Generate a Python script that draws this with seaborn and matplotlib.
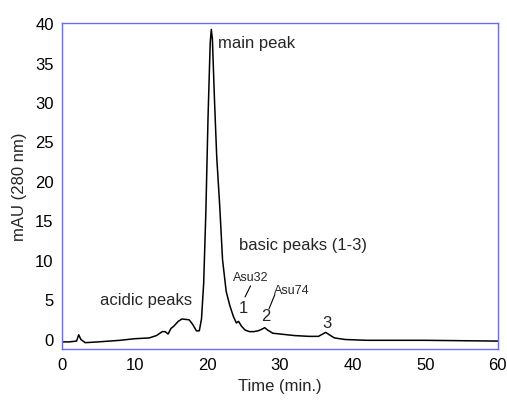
import matplotlib
matplotlib.use("Agg")
import matplotlib.pyplot as plt
import seaborn as sns
import pandas as pd

time_min = [0, 1, 2.0, 2.3, 2.6, 3.2, 5, 8, 10, 12, 13, 13.8, 14.2, 14.6, 15.0, 15.4,
            16.0, 16.5, 17.5, 18.0, 18.5, 18.9, 19.2, 19.5, 19.8, 20.1, 20.4, 20.55,
            20.7, 21.0, 21.3, 21.7, 22.1, 22.6, 23.1, 23.6, 24.0, 24.3, 24.7, 25.2,
            25.8, 26.4, 27.0, 27.5, 27.9, 28.3, 29.0, 30, 32, 34, 35.3, 35.9, 36.3,
            36.8, 37.5, 39, 42, 50, 60]
mau = [-0.4, -0.4, -0.3, 0.5, -0.1, -0.5, -0.4, -0.2, 0.0, 0.1, 0.4, 0.9, 0.9, 0.6,
       1.3, 1.6, 2.2, 2.5, 2.4, 1.8, 1.0, 1.0, 2.5, 7, 16, 28, 37.5, 39.2, 38, 30, 23,
       17, 10, 6.0, 4.2, 2.8, 2.0, 2.2, 1.6, 1.1, 0.9, 0.9, 1.0, 1.2, 1.4, 1.1, 0.7,
       0.6, 0.4, 0.3, 0.3, 0.6, 0.8, 0.5, 0.1, -0.1, -0.2, -0.2, -0.3]

x_ticks = [0, 10, 20, 30, 40, 50, 60]
y_ticks = [0, 5, 10, 15, 20, 25, 30, 35, 40]

sns.set_style("white")
plt.rcParams['font.family'] = ['Liberation Sans', 'DejaVu Sans']

df = pd.DataFrame({"t": time_min, "v": mau})

fig = plt.figure(figsize=(5.07, 4.02), dpi=100)
ax = fig.add_axes([0.1223, 0.1294, 0.8597, 0.8106])
sns.lineplot(data=df, x="t", y="v", ax=ax, color="black", linewidth=1.1, sort=True)

ax.set_xlim(0, 60)
ax.set_ylim(-1.3, 40)
ax.set_xticks(x_ticks)
ax.set_yticks(y_ticks)
ax.tick_params(axis="both", length=0, labelsize=12, pad=6, colors="black")
for s in ax.spines.values():
    s.set_color("#6b6bf0")
    s.set_linewidth(1.0)
ax.set_xlabel("Time (min.)", fontsize=12, labelpad=4)
ax.set_ylabel("mAU (280 nm)", fontsize=12, labelpad=6)

ax.text(21.5, 37.5, "main peak", fontsize=12, va="center", ha="left")
ax.text(24.3, 12.0, "basic peaks (1-3)", fontsize=12, va="center", ha="left")
ax.text(5.2, 5.0, "acidic peaks", fontsize=12, va="center", ha="left")
ax.text(23.5, 7.8, "Asu32", fontsize=9, va="center", ha="left")
ax.text(29.2, 6.2, "Asu74", fontsize=9, va="center", ha="left")
ax.text(24.9, 4.0, "1", fontsize=12, va="center", ha="center")
ax.text(28.0, 2.9, "2", fontsize=12, va="center", ha="center")
ax.text(36.5, 2.0, "3", fontsize=12, va="center", ha="center")
ax.plot([25.95, 25.2], [6.7, 5.3], color="black", linewidth=0.8)
ax.plot([29.3, 28.5], [5.6, 3.8], color="black", linewidth=0.8)

fig.savefig("out.png", dpi=100)
